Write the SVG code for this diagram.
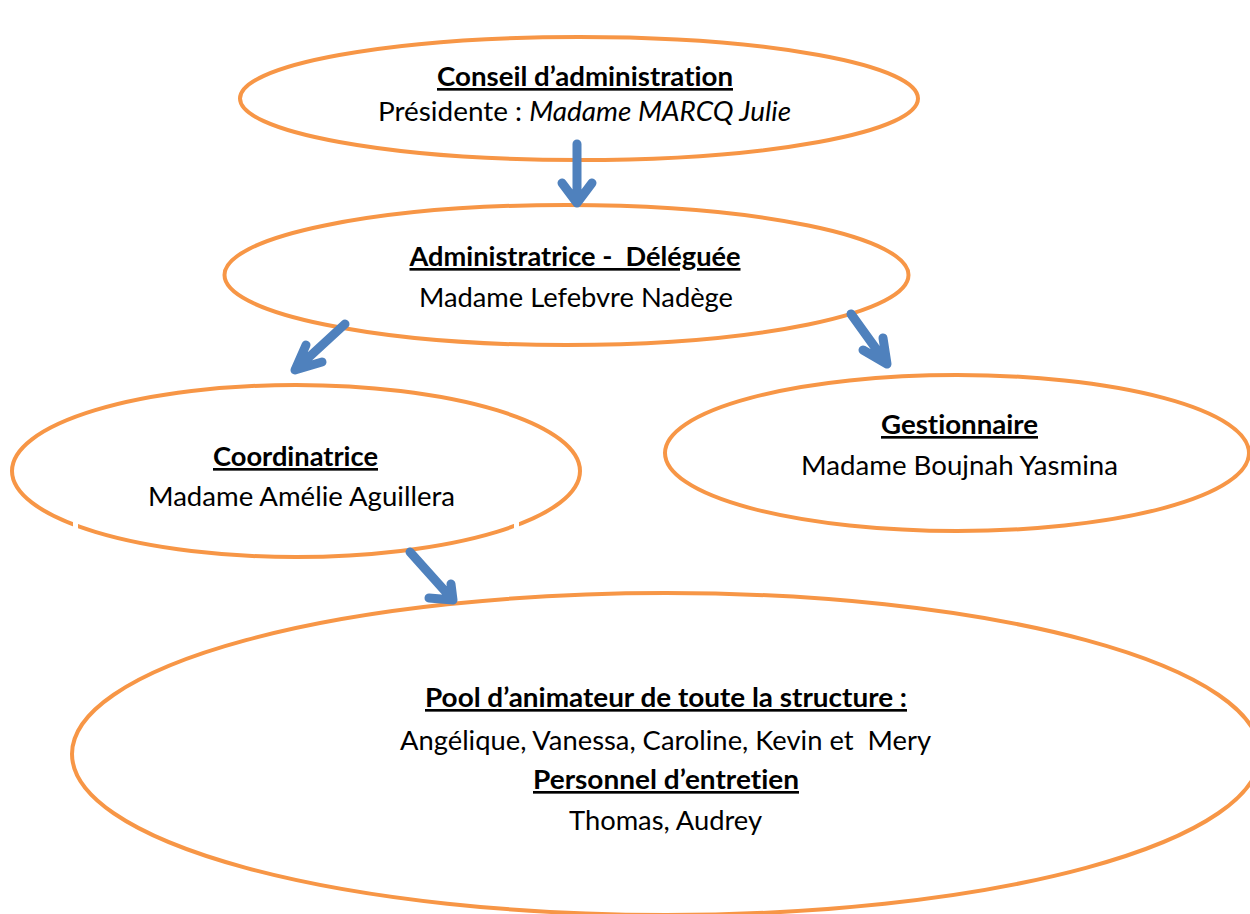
<svg xmlns="http://www.w3.org/2000/svg" width="1250" height="914" viewBox="0 0 1250 914">
<style>
.node{fill:#fff;stroke:#F79646;stroke-width:4}
.t{font-family:Lato,"Open Sans","Liberation Sans",sans-serif;font-size:26.5px;fill:#000;text-anchor:middle;font-variant-ligatures:none}
.b{font-weight:bold;text-decoration:underline}
.i{font-style:italic}
.arr{fill:none;stroke:#4F81BD;stroke-width:9;stroke-linecap:round;stroke-linejoin:round}
</style>
<rect width="1250" height="914" fill="#fff"/>
<g id="conseil">
<ellipse class="node" cx="579" cy="98.5" rx="339" ry="61.5"/>
<text class="t b" x="585" y="86" textLength="296" lengthAdjust="spacingAndGlyphs">Conseil d’administration</text>
<text class="t" x="584.5" y="121" textLength="413" lengthAdjust="spacingAndGlyphs">Présidente : <tspan class="i">Madame MARCQ Julie</tspan></text>
</g>
<g id="administratrice">
<ellipse class="node" cx="566.5" cy="275" rx="342" ry="70"/>
<text class="t b" x="575" y="266" textLength="331" lengthAdjust="spacingAndGlyphs" xml:space="preserve">Administratrice -  Déléguée</text>
<text class="t" x="576" y="307" textLength="314" lengthAdjust="spacingAndGlyphs">Madame Lefebvre Nadège</text>
</g>
<g id="coordinatrice">
<ellipse class="node" cx="296" cy="471" rx="284" ry="86"/>
<rect x="73" y="520" width="5" height="16" fill="#fff"/>
<rect x="514" y="520" width="5" height="16" fill="#fff"/>
<text class="t b" x="295.5" y="466" textLength="165" lengthAdjust="spacingAndGlyphs">Coordinatrice</text>
<text class="t" x="301.5" y="506" textLength="307" lengthAdjust="spacingAndGlyphs">Madame Amélie Aguillera</text>
</g>
<g id="gestionnaire">
<ellipse class="node" cx="957" cy="453" rx="292" ry="78"/>
<text class="t b" x="959.5" y="434" textLength="157" lengthAdjust="spacingAndGlyphs">Gestionnaire</text>
<text class="t" x="959.5" y="475" textLength="317" lengthAdjust="spacingAndGlyphs">Madame Boujnah Yasmina</text>
</g>
<g id="pool">
<ellipse class="node" cx="666" cy="754" rx="594" ry="161"/>
<text class="t b" x="666" y="707" textLength="482" lengthAdjust="spacingAndGlyphs">Pool d’animateur de toute la structure :</text>
<text class="t" x="665.5" y="750" textLength="531" lengthAdjust="spacingAndGlyphs" xml:space="preserve">Angélique, Vanessa, Caroline, Kevin et  Mery</text>
<text class="t b" x="666" y="789" textLength="266" lengthAdjust="spacingAndGlyphs">Personnel d’entretien</text>
<text class="t" x="665.5" y="830" textLength="193" lengthAdjust="spacingAndGlyphs">Thomas, Audrey</text>
</g>
<g id="connectors">
<path class="arr" d="M577,144 V203 M562,183 L577,203 L592,183"/>
<path class="arr" d="M345,324 L295,370 M306,345 L295,370 L322,362"/>
<path class="arr" d="M851,314 L887,364 M883,338 L887,364 L863,350"/>
<path class="arr" d="M410,552 L453,600 M451,584 L453,600 L429,598"/>
</g>
</svg>
